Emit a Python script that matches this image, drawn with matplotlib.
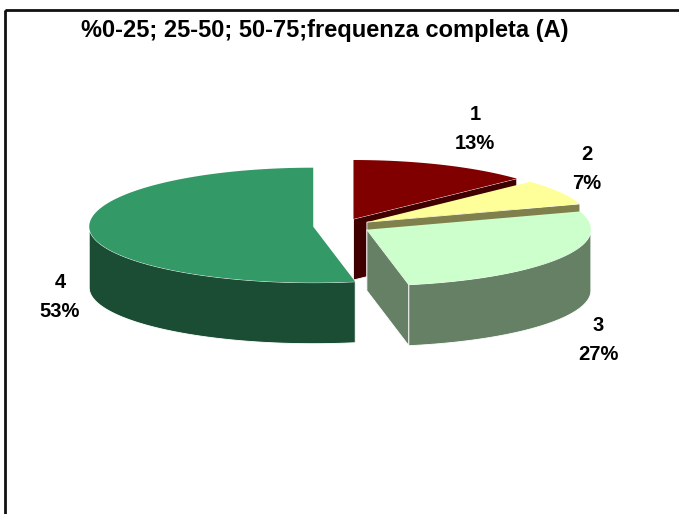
import numpy as np
import matplotlib
matplotlib.use("Agg")
from matplotlib import pyplot as plt
from matplotlib.patches import Polygon, Rectangle

# data
categories = ["1", "2", "3", "4"]
values = [13, 7, 27, 53]
top_colors = ["#800000", "#FFFF99", "#CCFFCC", "#339966"]
side_colors = ["#400000", "#80804C", "#668066", "#1A4D33"]
title = "%0-25; 25-50; 50-75;frequenza completa (A)"

# layout of the fake 3d pie (pixel coords)
CX, CY = 342, 226
RX = 224
RY_BACK, RY_FRONT = 59, 56
DEPTH = 61
EXPLODE = 0.129

W, H = 679, 514
fig = plt.figure(figsize=(W / 100, H / 100), dpi=100)
ax = fig.add_axes([0, 0, 1, 1])
ax.set_xlim(0, W)
ax.set_ylim(H, 0)
ax.axis("off")

# chart border (runs off the right/bottom edge)
ax.add_patch(Rectangle((4.5, 9.5), W + 20, H + 20, fill=False, ec="#111111", lw=2))


def ry(t):
    return np.where(np.cos(t) > 0, RY_BACK, RY_FRONT)


def arc(t0, t1, ox, oy, dz=0, n=120):
    t = np.radians(np.linspace(t0, t1, n))
    return np.column_stack([CX + ox + RX * np.sin(t), CY + oy - ry(t) * np.cos(t) + dz])


total = sum(values)
angles = np.concatenate([[0], np.cumsum(values) / total * 360])

sides = []
tops = []
for i, v in enumerate(values):
    a0, a1 = angles[i], angles[i + 1]
    mid = np.radians((a0 + a1) / 2)
    ox = RX * EXPLODE * np.sin(mid)
    oy = -ry(mid) * EXPLODE * np.cos(mid)
    apex = np.array([CX + ox, CY + oy])

    top = np.vstack([apex, arc(a0, a1, ox, oy)])
    tops.append((top, top_colors[i]))

    # outer wall, only the front half shows
    w0, w1 = max(a0, 90), min(a1, 270)
    if w1 > w0:
        upper = arc(w0, w1, ox, oy)
        lower = arc(w0, w1, ox, oy, DEPTH)[::-1]
        poly = np.vstack([upper, lower])
        key = -np.cos(np.radians((w0 + w1) / 2))
        sides.append((key, poly, side_colors[i]))

    # cut faces, keep the ones turned towards the viewer
    for ang, front in [(a0, -np.sin(np.radians(a0))), (a1, np.sin(np.radians(a1)))]:
        if front <= 1e-6:
            continue
        rim = arc(ang, ang, ox, oy, n=1)[0]
        poly = np.array([apex, rim, rim + [0, DEPTH], apex + [0, DEPTH]])
        key = -0.5 * np.cos(np.radians(ang)) - EXPLODE * np.cos(mid)
        sides.append((key, poly, side_colors[i]))

for key, poly, c in sorted(sides, key=lambda s: s[0]):
    ax.add_patch(Polygon(poly, closed=True, fc=c, ec="white", lw=0.6))
for poly, c in tops:
    ax.add_patch(Polygon(poly, closed=True, fc=c, ec="none"))

# labels
label_pos = [(475, 129), (587, 169), (598, 340), (60, 297)]
for cat, v, (x, y) in zip(categories, values, label_pos):
    ax.text(x, y, f"{cat}\n{v}%", ha="center", va="center", fontsize=14.5,
            fontweight="bold", family="Liberation Sans", linespacing=1.65)

ax.text(325, 31, title, ha="center", va="center", fontsize=17,
        fontweight="bold", family="Liberation Sans")

fig.savefig("out.png", dpi=100)
